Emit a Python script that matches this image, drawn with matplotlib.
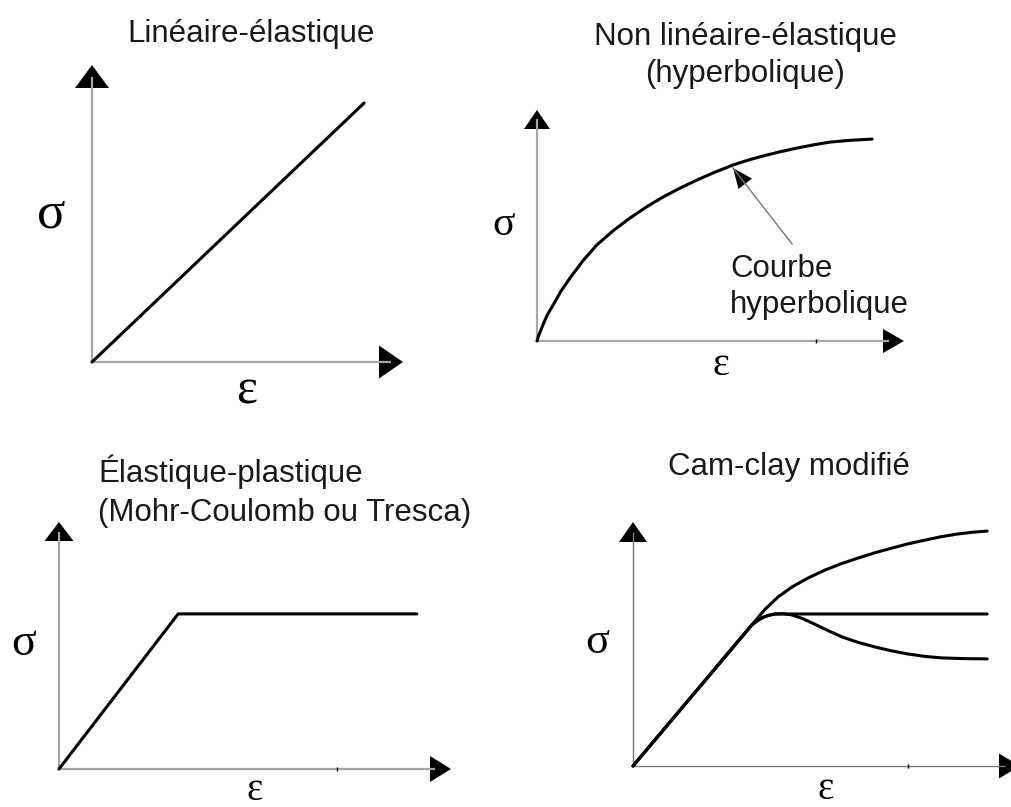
import numpy as np
import matplotlib
matplotlib.use('Agg')
import matplotlib.pyplot as plt
from matplotlib.patches import Polygon

W, H = 1012, 807

# 1 - lineaire elastique (eps, sigma as fraction of the axis length)
eps_lin = [0.0, 0.875]
sig_lin = [0.0, 0.872]

# 2 - non lineaire elastique (hyperbolique)
eps_hyp = [0.0, 0.005, 0.016, 0.028, 0.044, 0.065, 0.090, 0.124, 0.163, 0.208, 0.253, 0.298,
           0.343, 0.390, 0.436, 0.485, 0.534, 0.575, 0.616, 0.662, 0.708, 0.753, 0.798, 0.855, 0.913]
sig_hyp = [0.0, 0.025, 0.069, 0.113, 0.156, 0.215, 0.273, 0.345, 0.416, 0.478, 0.532, 0.580,
           0.623, 0.662, 0.697, 0.731, 0.762, 0.783, 0.801, 0.819, 0.835, 0.849, 0.861, 0.869, 0.874]
hyp_arrow_tip = (0.534, 0.749)
hyp_arrow_tail = (0.695, 0.420)

# 3 - elastique plastique
eps_mc = [0.0, 0.304, 0.913]
sig_mc = [0.0, 0.628, 0.628]

# 4 - cam-clay modifie : three branches after the elastic part
eps_cc_up = [0.0, 0.307, 0.341, 0.375, 0.411, 0.453, 0.496, 0.538, 0.581, 0.625, 0.669,
             0.712, 0.755, 0.797, 0.840, 0.878, 0.915]
sig_cc_up = [0.0, 0.578, 0.642, 0.693, 0.734, 0.771, 0.803, 0.829, 0.852, 0.874, 0.893,
             0.911, 0.926, 0.940, 0.951, 0.958, 0.963]
eps_cc_flat = [0.0, 0.307, 0.320, 0.333, 0.349, 0.367, 0.411, 0.915]
sig_cc_flat = [0.0, 0.578, 0.594, 0.607, 0.617, 0.623, 0.623, 0.623]
eps_cc_soft = [0.0, 0.307, 0.320, 0.333, 0.349, 0.367, 0.390, 0.411, 0.437, 0.463, 0.500, 0.540,
               0.583, 0.625, 0.668, 0.711, 0.755, 0.798, 0.857, 0.915]
sig_cc_soft = [0.0, 0.578, 0.594, 0.607, 0.617, 0.623, 0.624, 0.619, 0.605, 0.586, 0.558, 0.529,
               0.506, 0.488, 0.472, 0.459, 0.449, 0.443, 0.440, 0.439]

SANS = 'Liberation Sans'
SERIF = 'Liberation Serif'

fig = plt.figure(figsize=(W / 100, H / 100), dpi=100)
fig.patch.set_facecolor('white')


def head(ax, tip, tail, length, half, color='black'):
    # filled triangle, sizes in pixels
    t = ax.transData
    p = t.transform(tip)
    q = t.transform(tail)
    d = (p - q) / np.hypot(*(p - q))
    n = np.array([-d[1], d[0]])
    base = p - d * length
    pts = np.array([p, base + n * half, base - n * half])
    ax.add_patch(Polygon(t.inverted().transform(pts), closed=True, facecolor=color,
                         edgecolor='none', clip_on=False))


def panel(ox, oy, tx, ty, yhead, xhead, axcol='#a6a6a6', axlw=1.6, tick=None):
    ax = fig.add_axes([ox / W, 1 - oy / H, (tx - ox) / W, (oy - ty) / H])
    ax.set_xlim(0, 1)
    ax.set_ylim(0, 1)
    ax.axis('off')
    ax.plot([0, 0], [0, 0.96], color=axcol, lw=axlw, solid_capstyle='butt', clip_on=False)
    ax.plot([0, 0.96], [0, 0], color=axcol, lw=axlw, solid_capstyle='butt', clip_on=False)
    head(ax, (0, 1), (0, 0), *yhead)
    head(ax, (1, 0), (0, 0), *xhead)
    if tick is not None:
        ax.plot([tick], [0], marker='|', ms=3, mew=1, color='black', clip_on=False)
    return ax


def ftext(x, y, s, **kw):
    fig.text(x / W, 1 - y / H, s, va='baseline', **kw)


curve = dict(color='black', lw=2.2, solid_capstyle='round', solid_joinstyle='round', clip_on=False)

# panel 1
ax1 = panel(92, 362, 403, 65, (23, 17), (24, 16.5))
ax1.plot(eps_lin, sig_lin, **curve)
ftext(251, 42, 'Linéaire-élastique', ha='center', fontsize=22.5, family=SANS, color='#1a1a1a')
ftext(51, 227, 'σ', ha='center', fontsize=38, family=SERIF)
ftext(247, 404, 'ε', ha='center', fontsize=36, family=SERIF)

# panel 2
ax2 = panel(537, 341, 904, 110, (19, 13), (21, 12), tick=0.760)
ax2.plot(eps_hyp, sig_hyp, **curve)
ax2.plot([hyp_arrow_tail[0], hyp_arrow_tip[0]], [hyp_arrow_tail[1], hyp_arrow_tip[1]],
         color='#777777', lw=1.0)
head(ax2, hyp_arrow_tip, hyp_arrow_tail, 20, 8.5)
ftext(745, 45, 'Non linéaire-élastique', ha='center', fontsize=22.5, family=SANS, color='#1a1a1a')
ftext(745, 82, '(hyperbolique)', ha='center', fontsize=22.5, family=SANS, color='#1a1a1a')
ftext(730, 277, 'Courbe', ha='left', fontsize=22.5, family=SANS, color='#1a1a1a')
ftext(730, 313, 'hyperbolique', ha='left', fontsize=22.5, family=SANS, color='#1a1a1a')
ftext(504, 235, 'σ', ha='center', fontsize=30, family=SERIF)
ftext(721, 375, 'ε', ha='center', fontsize=29, family=SERIF)

# panel 3
ax3 = panel(59, 769, 451, 522, (19, 14.5), (21, 13), tick=0.709)
ax3.plot(eps_mc, sig_mc, **curve)
ftext(98, 482, 'Élastique-plastique', ha='left', fontsize=22.5, family=SANS, color='#1a1a1a')
ftext(98, 521, '(Mohr-Coulomb ou Tresca)', ha='left', fontsize=22.5, family=SANS, color='#1a1a1a')
ftext(24, 655, 'σ', ha='center', fontsize=33, family=SERIF)
ftext(255, 800, 'ε', ha='center', fontsize=28, family=SERIF)

# panel 4
ax4 = panel(633, 766, 1020, 522, (20, 14), (21, 12.5), axcol='#7a7a7a', axlw=1.0, tick=0.711)
ax4.plot(eps_cc_up, sig_cc_up, **curve)
ax4.plot(eps_cc_flat, sig_cc_flat, **curve)
ax4.plot(eps_cc_soft, sig_cc_soft, **curve)
ftext(789, 475, 'Cam-clay modifié', ha='center', fontsize=22.5, family=SANS, color='#1a1a1a')
ftext(597, 653, 'σ', ha='center', fontsize=32, family=SERIF)
ftext(826, 799, 'ε', ha='center', fontsize=28, family=SERIF)

fig.savefig('out.png', dpi=100, facecolor='white')
